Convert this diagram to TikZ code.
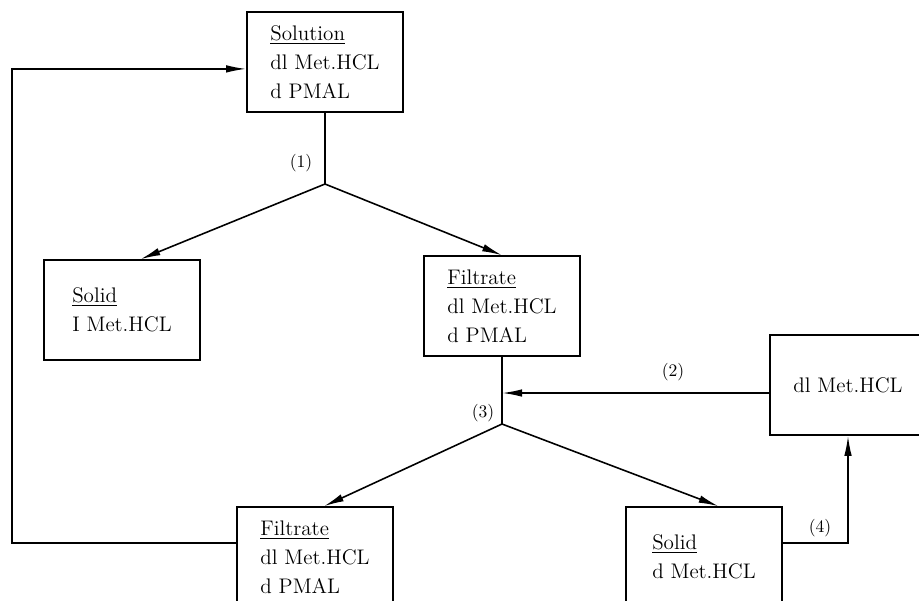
\documentclass[tikz,border=0pt]{standalone}
\usetikzlibrary{arrows.meta}
\begin{document}
\begin{tikzpicture}[x=0.02cm, y=-0.02cm,
	box/.style={draw, line width=0.9pt, minimum width=3.12cm, minimum height=2cm, align=left, font=\fontsize{12}{16.5}\selectfont},
	pipe/.style={line width=0.9pt},
	flow/.style={line width=0.9pt, -{Latex[length=4mm, width=1.5mm]}},
	num/.style={font=\fontsize{10}{12}\selectfont}]
			%%%%% START %%%%%
			
			\clip (0, 0) rectangle (919, 600);
			
			\node[box] (solution) at (325, 62) {\underline{Solution}\\dl Met.HCL\\d PMAL};
			\node[box] (solidtop) at (122, 310) {\underline{Solid}\\I Met.HCL};
			\node[box] (filtratetop) at (502, 306) {\underline{Filtrate}\\dl Met.HCL\\d PMAL};
			\node[box] (dissolved) at (848, 385) {dl Met.HCL};
			\node[box] (filtratebot) at (315, 557) {\underline{Filtrate}\\dl Met.HCL\\d PMAL};
			\node[box] (solidbot) at (704, 557) {\underline{Solid}\\d Met.HCL};
			
			\coordinate (split1) at (325, 184);
			\coordinate (split2) at (502, 424);
			\coordinate (join2) at (502, 393);
			\coordinate (back) at (12, 300);
			
			\draw[pipe] (solution) -- (split1);
			\draw[flow] (split1) -- (solidtop.70);
			\draw[flow] (split1) -- (filtratetop.north);
			
			\draw[pipe] (filtratetop) -- (split2);
			\draw[flow] (dissolved.west |- join2) -- (join2);
			\draw[flow] (split2) -- (filtratebot.80);
			\draw[flow] (split2) -- (solidbot.74);
			
			\draw[flow] (solidbot.10) -| (dissolved.south);
			\draw[flow] (filtratebot.170) -| (back) |- (solution.185);
			
			\node[num] (step1) at (301, 163) {(1)};
			\node[num] (step2) at (673, 372) {(2)};
			\node[num] (step3) at (483, 413) {(3)};
			\node[num] (step4) at (820, 528) {(4)};
			
			%%%%% END %%%%%
\end{tikzpicture}
\end{document}
